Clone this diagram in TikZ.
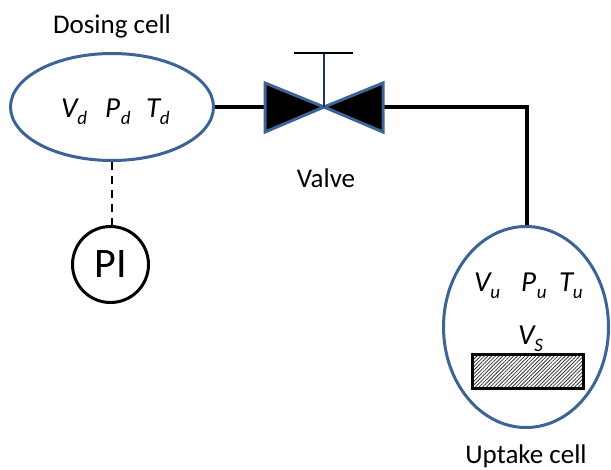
\documentclass[tikz,border=0pt]{standalone}
\usepackage{fontspec}
\setmainfont{Carlito}
\usetikzlibrary{shapes.geometric,patterns.meta}
\definecolor{cellblue}{RGB}{60,100,150}
\definecolor{stemblue}{RGB}{25,50,120}
\newcommand{\qty}[3][-0.06em]{\textit{#2}\kern#1\raisebox{-0.25em}{\fontsize{19}{19}\selectfont\textit{#3}}}
\tikzset{
  cell/.style={ellipse,draw=cellblue,line width=3pt,inner sep=0pt},
  label/.style={font=\fontsize{27}{29}\selectfont,inner sep=0pt},
  var/.style={font=\fontsize{29}{31}\selectfont,inner sep=0pt,anchor=base west},
  pipe/.style={line width=3.2pt,black},
  wedge/.style={draw=cellblue,line width=3pt,fill=black,line join=miter},
}
\begin{document}
\begin{tikzpicture}[x=1pt,y=-1pt]
\useasboundingbox (0,0) rectangle (611,469);
\node[cell,minimum width=203pt,minimum height=107pt] (dose) at (112,107) {};
\node[cell,minimum width=165pt,minimum height=201pt] (uptake) at (526,327) {};
\node[circle,draw=black,line width=3pt,minimum size=76pt,inner sep=0pt,font=\fontsize{42}{44}\selectfont] (pi) at (110.5,264.5) {PI};
\node[label] (dosetxt) at (112,26) {Dosing cell};
\node[label] (valvetxt) at (326,178) {Valve};
\node[label] (uptaketxt) at (526,456) {Uptake cell};
\node[var] (vd) at (61,117) {\qty{V}{d}};
\node[var] (pd) at (105,117) {\qty[0.02em]{P}{d}};
\node[var] (td) at (146,117) {\qty{T}{d}};
\node[var] (vu) at (474,291) {\qty{V}{u}};
\node[var] (pu) at (521,291) {\qty[0.02em]{P}{u}};
\node[var] (tu) at (559,291) {\qty{T}{u}};
\node[var] (vs) at (518,344) {\qty{V}{S}};
\node[draw=black,line width=3pt,minimum width=111pt,minimum height=34pt,inner sep=0pt,
  pattern={Lines[angle=45,distance=2.6pt,line width=0.8pt]},pattern color=black!80] (solid) at (527.5,371) {};
\coordinate (vc) at (324,107);
\coordinate (vl) at (265,107);
\coordinate (vr) at (383,107);
\coordinate (vh) at (324,53);
\coordinate (bend) at (527,107);
\draw[pipe] (dose.east) -- (vl);
\draw[pipe] (vr) -- (bend) -- (bend |- uptake.north);
\draw[line width=2.6pt,dash pattern=on 8pt off 6pt] (dose.south) -- (dose.south |- pi.north);
\draw[wedge] (vc) -- (265,83) -- (265,132) -- cycle;
\draw[wedge] (vc) -- (383,83) -- (383,132) -- cycle;
\draw[line width=1.8pt,stemblue] (vc) -- (vh);
\draw[line width=2pt,black] ([xshift=-30pt]vh) -- ([xshift=29pt]vh);
\end{tikzpicture}
\end{document}
